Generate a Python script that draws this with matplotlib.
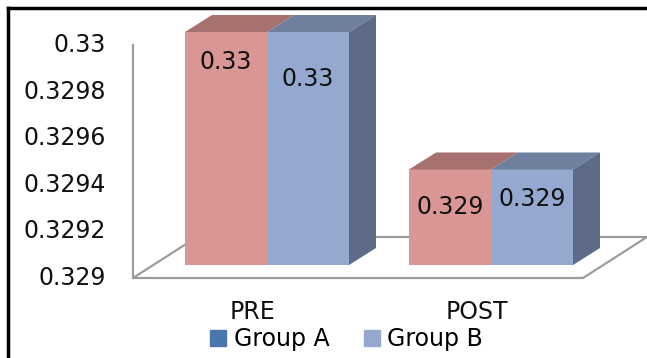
import numpy as np
import matplotlib.pyplot as plt
from matplotlib.patches import Polygon
from matplotlib.lines import Line2D

# Данные
categories = ['PRE', 'POST']
series = ['Group A', 'Group B']
group_a = [0.33, 0.32941]
group_b = [0.33, 0.32941]
ticks = [0.329, 0.3292, 0.3294, 0.3296, 0.3298, 0.33]
tick_labels = ['0.329', '0.3292', '0.3294', '0.3296', '0.3298', '0.33']

# Цвета: фронт, верх, бок
front = ['#d99694', '#95a9d0']
top = ['#a6716f', '#6f809f']
side = ['#5d6b88', '#5d6b88']
legend_colors = ['#4a76ad', '#95a9d0']

W, H = 647, 358
fig = plt.figure(figsize=(W / 100, H / 100), dpi=100)
ax = fig.add_axes([0, 0, 1, 1])
ax.axis('off')

# масштаб: пиксели -> данные
sx = 1 / 224            # категории на пиксель
sy = 0.001 / 233        # значения на пиксель
x0_px, y0_px = 267, 278  # центр PRE и уровень 0.329 (в пикселях)
ax.set_xlim(-x0_px * sx, (W - x0_px) * sx)
ax.set_ylim(ticks[0] - (H - y0_px) * sy, ticks[0] + y0_px * sy)

# глубина
bdx, bdy = 27 * sx, 17 * sy     # глубина столбцов
fdx, fdy = 64 * sx, 41 * sy     # глубина пола
shift = 13 * sy                 # передняя грань столбцов над краем пола
bw = 82 * sx

# пол
fl, fr = -134 * sx, 1 + 92 * sx
floor = Polygon([(fl, ticks[0]), (fr, ticks[0]), (fr + fdx, ticks[0] + fdy),
                 (fl + fdx, ticks[0] + fdy)], closed=True,
                facecolor='white', edgecolor='#9c9c9c', lw=1.6, zorder=1)
ax.add_patch(floor)
ax.plot([fl, fl], [ticks[0], ticks[-1]], color='#9c9c9c', lw=1.6, zorder=1)

x = np.arange(len(categories))
base = ticks[0] + shift
for i, vals in enumerate([group_a, group_b]):
    xs = x - bw + i * bw
    heights = np.array(vals) - ticks[0]
    ax.bar(xs, heights, bw, bottom=base, align='edge', color=front[i], zorder=3)
    for xl, h in zip(xs, heights):
        t = base + h
        ax.add_patch(Polygon([(xl, t), (xl + bw, t), (xl + bw + bdx, t + bdy),
                              (xl + bdx, t + bdy)], closed=True,
                             facecolor=top[i], edgecolor='none', zorder=3))
        if i == 1:
            ax.add_patch(Polygon([(xl + bw, base), (xl + bw, t),
                                  (xl + bw + bdx, t + bdy),
                                  (xl + bw + bdx, base + bdy)], closed=True,
                                 facecolor=side[i], edgecolor='none', zorder=3))

# подписи значений
label_off = [[30, 38], [47, 30]]
for i, vals in enumerate([group_a, group_b]):
    for j, v in enumerate(vals):
        ax.annotate(f'{v:.3g}', (x[j] - bw / 2 + i * bw, v + shift),
                    xytext=(0, -label_off[i][j]), textcoords='offset pixels',
                    ha='center', va='center', fontsize=17, color='#111111',
                    zorder=5)

# ось Y
for t, lab in zip(ticks, tick_labels):
    ax.text(106 / W, t, lab, transform=ax.get_yaxis_transform(),
            ha='right', va='center', fontsize=17, color='#111111')

# категории
for j, c in enumerate(categories):
    ax.text(x[j] - 14 * sx, ticks[0] - 34 * sy, c, ha='center', va='center',
            fontsize=17, color='#111111')

# легенда
handles = [Line2D([], [], marker='s', ls='', markersize=11, color=c)
           for c in legend_colors]
fig.legend(handles, series, loc='center', bbox_to_anchor=(346 / W, 1 - 339 / H),
           ncol=2, frameon=False, fontsize=17, handletextpad=0.25,
           columnspacing=1.4, handlelength=0.8)

# рамка
fig.add_artist(Line2D([8 / W, 1], [1 - 8 / H, 1 - 8 / H], color='black', lw=2.5))
fig.add_artist(Line2D([8 / W, 8 / W], [0, 1 - 8 / H], color='black', lw=2.5))

fig.savefig('out.png', dpi=100)
